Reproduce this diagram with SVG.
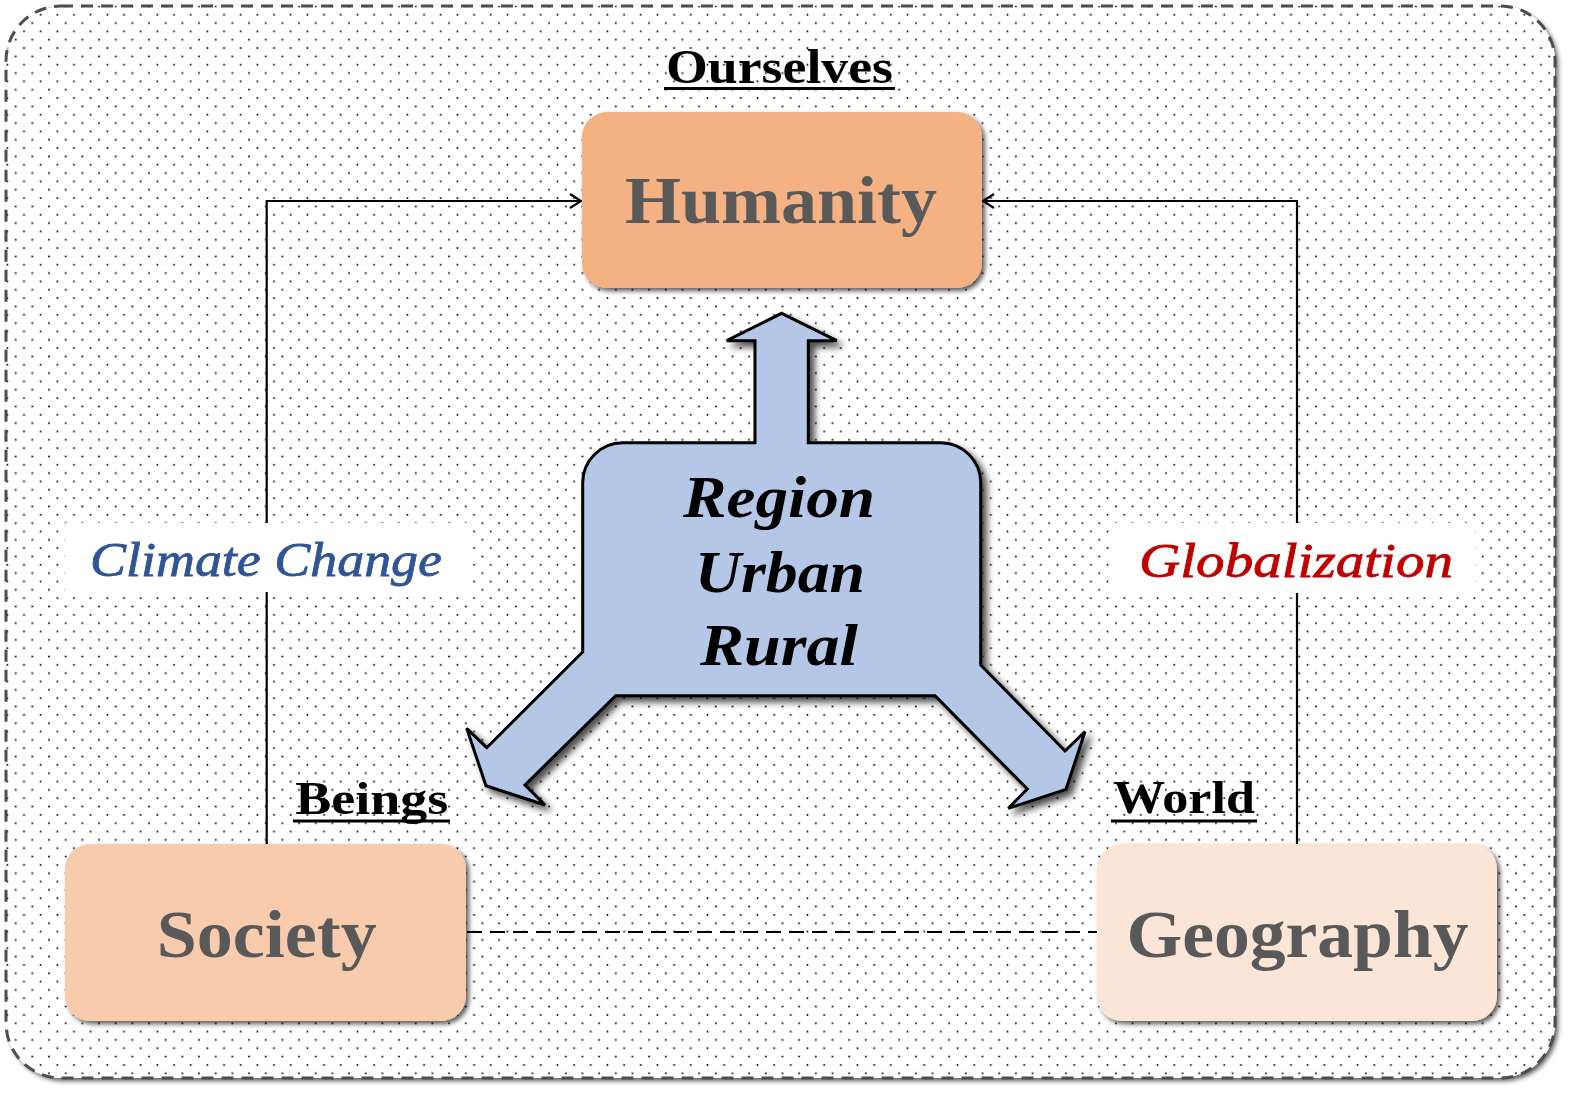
<svg xmlns="http://www.w3.org/2000/svg" width="1570" height="1093" viewBox="0 0 1570 1093">
<style>
.conn{fill:none;stroke:#000;stroke-width:2.2}
.box{stroke:none}
.nodeText{font-family:"Liberation Serif","Times New Roman",serif;font-weight:bold;font-size:68px;fill:#595959;text-anchor:middle}
.head{font-family:"Liberation Serif","Times New Roman",serif;font-weight:bold;fill:#000;text-anchor:middle}
.arrowText{font-family:"Liberation Serif","Times New Roman",serif;font-weight:bold;font-style:italic;font-size:60px;fill:#000;text-anchor:middle}
.lbl{font-family:"Liberation Serif","Times New Roman",serif;font-style:italic;font-size:49px;text-anchor:middle;stroke-width:0.8}
</style>
<defs>
<pattern id="dots" patternUnits="userSpaceOnUse" width="16.67" height="16.67">
<circle cx="7.33" cy="14.7" r="0.95" fill="#000"/>
<circle cx="15.67" cy="6.4" r="0.95" fill="#000"/>
</pattern>
<filter id="sh" x="-5%" y="-5%" width="115%" height="120%">
<feGaussianBlur in="SourceAlpha" stdDeviation="2.5"/>
<feOffset dx="3" dy="3"/>
<feComponentTransfer><feFuncA type="linear" slope="0.65"/></feComponentTransfer>
<feMerge><feMergeNode/><feMergeNode in="SourceGraphic"/></feMerge>
</filter>
<filter id="sh2" x="-10%" y="-10%" width="125%" height="125%">
<feGaussianBlur in="SourceAlpha" stdDeviation="3.5"/>
<feOffset dx="5" dy="5"/>
<feComponentTransfer><feFuncA type="linear" slope="0.7"/></feComponentTransfer>
<feMerge><feMergeNode/><feMergeNode in="SourceGraphic"/></feMerge>
</filter>
<marker id="arr" markerUnits="userSpaceOnUse" markerWidth="16" markerHeight="18" refX="12" refY="8" orient="auto">
<path d="M1,1 L12,8 L1,15" fill="none" stroke="#000" stroke-width="2.2"/>
</marker>
</defs>
<rect width="1570" height="1093" fill="#fff"/>
<g id="frame">
<rect x="6" y="6" width="1549" height="1072" rx="55" fill="#fff" filter="url(#sh)"/>
<rect x="6" y="6" width="1549" height="1072" rx="55" fill="url(#dots)" stroke="#4d4d4d" stroke-width="3" stroke-dasharray="12 8"/>
</g>
<g id="connectors">
<path class="conn" d="M266.7 844 V201 H581" marker-end="url(#arr)"/>
<path class="conn" d="M1297 844 V201 H983" marker-end="url(#arr)"/>
<path class="conn" d="M467 932 H1097" stroke-dasharray="15 8"/>
<g id="label-climate">
<rect x="65" y="523" width="402" height="69" fill="#fff"/>
<text class="lbl" x="266" y="576" fill="#2F5597" stroke="#2F5597" textLength="352" lengthAdjust="spacingAndGlyphs">Climate Change</text>
</g>
<g id="label-globalization">
<rect x="1113" y="523" width="362" height="70" fill="#fff"/>
<text class="lbl" x="1296" y="577" fill="#C00000" stroke="#C00000" textLength="314" lengthAdjust="spacingAndGlyphs">Globalization</text>
</g>
</g>
<g id="ourselves">
<text class="head" x="779.5" y="83" font-size="48" textLength="227" lengthAdjust="spacingAndGlyphs">Ourselves</text>
<rect x="664" y="87" width="231" height="3" fill="#000"/>
</g>
<g id="beings">
<text class="head" x="371.7" y="814" font-size="46" textLength="153" lengthAdjust="spacingAndGlyphs">Beings</text>
<rect x="293" y="819.5" width="157" height="3" fill="#000"/>
</g>
<g id="world">
<text class="head" x="1184" y="813.3" font-size="46" textLength="142" lengthAdjust="spacingAndGlyphs">World</text>
<rect x="1111" y="819.5" width="146" height="3" fill="#000"/>
</g>
<g id="humanity">
<rect class="box" x="582" y="112" width="400" height="176" rx="25" fill="#F4B183" filter="url(#sh)"/>
<text class="nodeText" x="781" y="223" textLength="312" lengthAdjust="spacingAndGlyphs">Humanity</text>
</g>
<g id="society">
<rect class="box" x="65" y="844" width="401" height="177" rx="25" fill="#F8CBAD" filter="url(#sh)"/>
<text class="nodeText" x="266.7" y="956.7" textLength="220" lengthAdjust="spacingAndGlyphs">Society</text>
</g>
<g id="geography">
<rect class="box" x="1097" y="844" width="400" height="177" rx="25" fill="#FBE5D6" filter="url(#sh)"/>
<text class="nodeText" x="1297.5" y="956.7" textLength="342" lengthAdjust="spacingAndGlyphs">Geography</text>
</g>
<g id="region">
<path d="M781.7 313.3 L836.7 340.7 L808.3 340.7 L808.3 442.7 L940.7 442.7 C962.7 442.7 980.7 460.7 980.7 482.7 L980.7 665 L1065 751 L1085 731.7 L1066 789.3 L1008.3 808.3 L1027.3 789 L935 695.7 L615.7 695.7 L525 785 L545 805 L486 785.7 L466.7 728.3 L486.7 747.7 L582.7 652 L582.7 482.7 C582.7 460.7 600.7 442.7 622.7 442.7 L755 442.7 L755 340.7 L726.7 340.7 Z" fill="#B4C7E7" stroke="#000" stroke-width="3" stroke-linejoin="miter" filter="url(#sh2)"/>
<text class="arrowText" x="779" y="516.7" textLength="192" lengthAdjust="spacingAndGlyphs">Region</text>
<text class="arrowText" x="780" y="591.7" textLength="170" lengthAdjust="spacingAndGlyphs">Urban</text>
<text class="arrowText" x="779" y="665" textLength="158" lengthAdjust="spacingAndGlyphs">Rural</text>
</g>
</svg>
